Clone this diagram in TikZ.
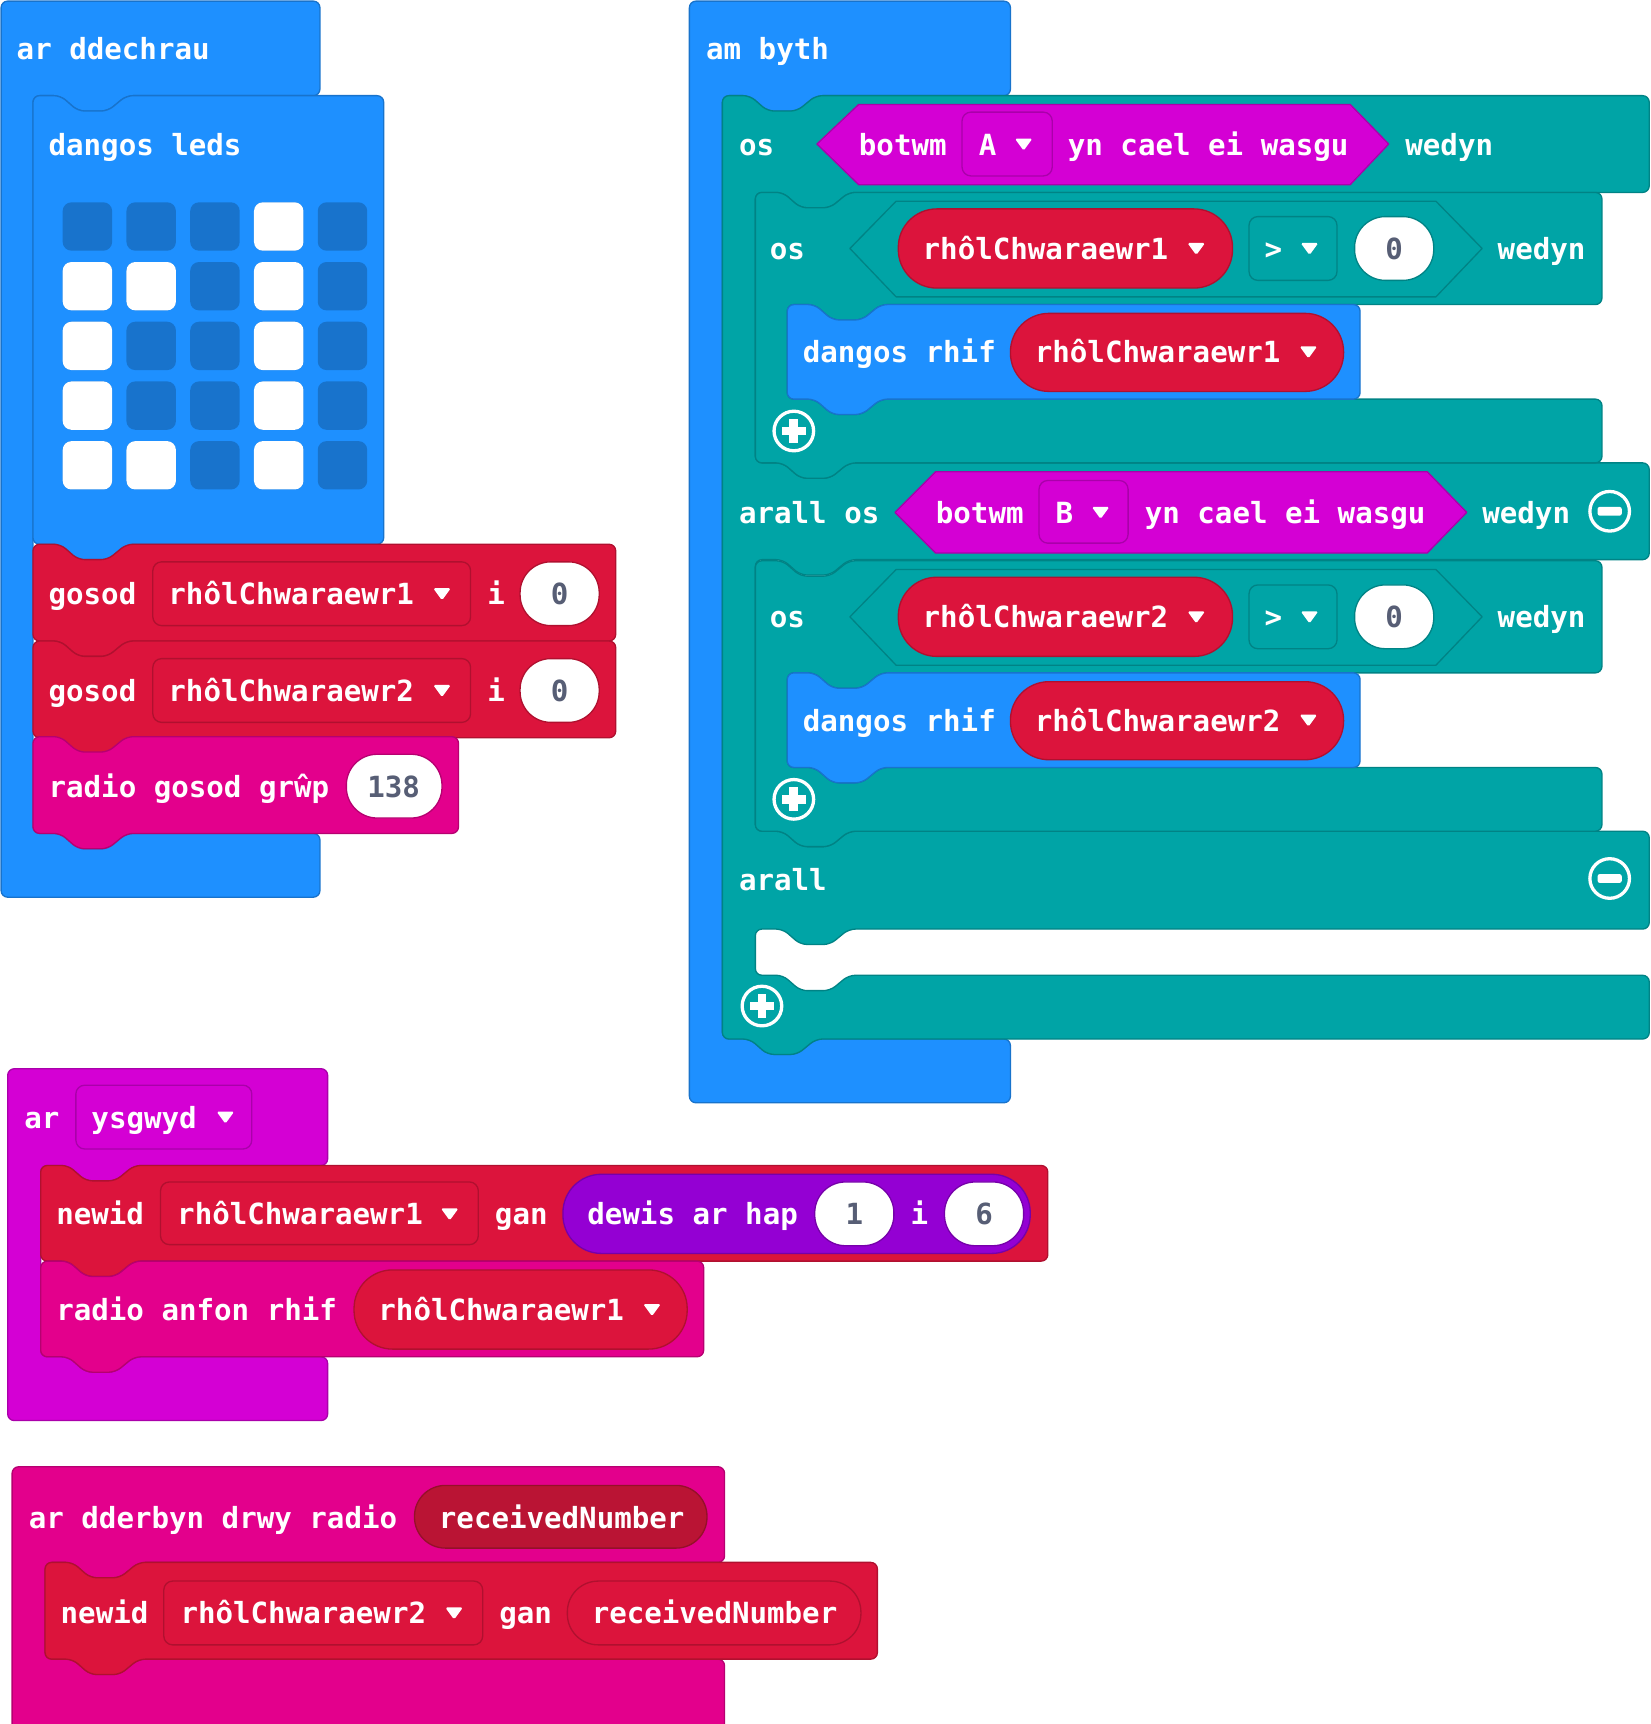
\documentclass[tikz,border=0pt]{standalone}
\usepackage{fontspec}
\setmainfont{DejaVu Sans Mono}
\usetikzlibrary{positioning}

\definecolor{mblue}{HTML}{1E90FF}
\definecolor{mblueD}{HTML}{1873CC}
\definecolor{mteal}{HTML}{00A4A6}
\definecolor{mtealD}{HTML}{008385}
\definecolor{mred}{HTML}{DC143C}
\definecolor{mredD}{HTML}{B0102F}
\definecolor{mpink}{HTML}{E3008C}
\definecolor{mpinkD}{HTML}{B60070}
\definecolor{minput}{HTML}{D400D4}
\definecolor{minputD}{HTML}{AA00AA}
\definecolor{mmath}{HTML}{9400D3}
\definecolor{mmathD}{HTML}{7600A9}
\definecolor{mrecv}{HTML}{BA1434}
\definecolor{mrecvD}{HTML}{951029}
\definecolor{mnum}{HTML}{575E75}

\tikzset{
	blk/.style={line width=1.2pt,rounded corners=6pt,line join=round},
	field/.style={line width=1.2pt,rounded corners=8pt},
	pillS/.style={line width=1.2pt,rounded corners=28pt},
	pillL/.style={line width=1.2pt,rounded corners=35pt},
	hexa/.style={line width=1.2pt,line join=round},
	lbl/.style={anchor=base west,inner sep=0pt,text=white,font=\fontsize{26.5}{30}\selectfont\bfseries},
	numlbl/.style={anchor=base,inner sep=0pt,text=mnum,font=\fontsize{26.5}{30}\selectfont\bfseries}
}

% notch cut into a top edge / tab hanging from a bottom edge
\newcommand{\notchtop}[2]{-- (#1+25,#2) -- (#1+41,#2+14) -- (#1+68,#2+14) -- (#1+85,#2)}
\newcommand{\tabbot}[2]{-- (#1+85,#2) -- (#1+68,#2+14) -- (#1+41,#2+14) -- (#1+25,#2)}
\newcommand{\stackblk}[6]{\draw[blk,fill=#5,draw=#6] (#1,#2) \notchtop{#1}{#2} -- (#3,#2) -- (#3,#4) \tabbot{#1}{#4} -- (#1,#4) -- cycle;}
\newcommand{\ddarrow}[2]{\fill[white,rounded corners=1.5pt] (#1-8,#2-5) -- (#1+8,#2-5) -- (#1,#2+6) -- cycle;}
\newcommand{\addicon}[2]{\draw[white,line width=3pt] (#1,#2) circle[radius=18pt];
	\fill[white] (#1-11,#2-4) rectangle (#1+11,#2+4);
	\fill[white] (#1-4,#2-11) rectangle (#1+4,#2+11);}
\newcommand{\removeicon}[2]{\draw[white,line width=3pt] (#1,#2) circle[radius=18pt];
	\fill[white,rounded corners=2pt] (#1-11,#2-4) rectangle (#1+11,#2+4);}

% inner "os ... wedyn" block with its "dangos rhif"
\newcommand{\nestedif}[3]{%
	\begin{scope}[shift={(0,#1)}]
	\draw[blk,fill=mteal,draw=mtealD] (687,175) \notchtop{687}{175} -- (1457,175) -- (1457,277) \tabbot{716}{277} -- (716,277) -- (716,363) \notchtop{716}{363} -- (1457,363) -- (1457,421) \tabbot{687}{421} -- (687,421) -- cycle;
	\node[lbl] (#3os) at (700,236) {os};
	\draw[hexa,fill=mteal,draw=mtealD] (773,226) -- (815,183) -- (1306,183) -- (1348,226) -- (1306,270) -- (815,270) -- cycle;
	\draw[pillL,fill=mred,draw=mredD] (817,190) rectangle (1121,262);
	\node[lbl] (#3var) at (839,236) {#2};
	\ddarrow{1088}{226}
	\draw[field,fill=mteal,draw=mtealD] (1136,197) rectangle (1216,255);
	\node[lbl] (#3op) at (1150,236) {>};
	\ddarrow{1191}{226}
	\draw[pillS,fill=white,draw=mtealD] (1232,197) rectangle (1304,255);
	\node[numlbl] (#3zero) at (1268,236) {0};
	\node[lbl] (#3then) at (1362,236) {wedyn};
	\stackblk{716}{277}{1237}{363}{mblue}{mblueD}
	\node[lbl] (#3show) at (730,330) {dangos rhif};
	\draw[pillL,fill=mred,draw=mredD] (919,285) rectangle (1222,356);
	\node[lbl] (#3arg) at (941,330) {#2};
	\ddarrow{1190}{320}
	\addicon{722}{392}
	\end{scope}}

\begin{document}
\begin{tikzpicture}[x=1pt,y=-1pt]
	\useasboundingbox (0,0) rectangle (1501,1568);

	% ar ddechrau
	\draw[blk,fill=mblue,draw=mblueD] (1,1) -- (291,1) -- (291,87) \tabbot{30}{87} -- (30,87) -- (30,758) \notchtop{30}{758} -- (291,758) -- (291,816) -- (1,816) -- cycle;
	\node[lbl] (start) at (15,54) {ar ddechrau};

	\stackblk{30}{87}{349}{495}{mblue}{mblueD}
	\node[lbl] (leds) at (44,141) {dangos leds};
	\foreach \c in {0,...,4}
		\foreach \r in {0,...,4}
			\fill[mblueD,rounded corners=8pt] (57+58*\c,184+54.3*\r) rectangle +(45,44);
	\foreach \c/\r in {3/0,0/1,1/1,3/1,0/2,3/2,0/3,3/3,0/4,1/4,3/4}
		\fill[white,rounded corners=8pt] (57+58*\c,184+54.3*\r) rectangle +(45,44);

	\foreach \y/\v in {495/1,583/2} {
		\stackblk{30}{\y}{560}{\y+88}{mred}{mredD}
		\node[lbl] (set\v) at (44,\y+55) {gosod};
		\draw[field,fill=mred,draw=mredD] (139,\y+16) rectangle (428,\y+74);
		\node[lbl] (setvar\v) at (153,\y+55) {rhôlChwaraewr\v};
		\ddarrow{402}{\y+45}
		\node[lbl] (setto\v) at (443,\y+55) {i};
		\draw[pillS,fill=white,draw=mredD] (473,\y+16) rectangle (545,\y+74);
		\node[numlbl] (setval\v) at (509,\y+55) {0};
	}

	\stackblk{30}{670}{417}{758}{mpink}{mpinkD}
	\node[lbl] (group) at (44,725) {radio gosod grŵp};
	\draw[pillS,fill=white,draw=mpinkD] (315,686) rectangle (402,744);
	\node[numlbl] (groupval) at (358,725) {138};

	% am byth
	\draw[blk,fill=mblue,draw=mblueD] (627,1) -- (919,1) -- (919,87) \tabbot{657}{87} -- (657,87) -- (657,945) \notchtop{657}{945} -- (919,945) -- (919,1003) -- (627,1003) -- cycle;
	\node[lbl] (forever) at (642,54) {am byth};

	\draw[blk,fill=mteal,draw=mtealD] (657,87) \notchtop{657}{87} -- (1500,87) -- (1500,175) \tabbot{687}{175} -- (687,175) -- (687,421) \notchtop{687}{421} -- (1500,421) -- (1500,509) \tabbot{687}{509} -- (687,509) -- (687,756) \notchtop{687}{756} -- (1500,756) -- (1500,845) \tabbot{687}{845} -- (687,845) -- (687,887) \notchtop{687}{887} -- (1500,887) -- (1500,945) \tabbot{657}{945} -- (657,945) -- cycle;

	\node[lbl] (ifA) at (672,141) {os};
	\draw[hexa,fill=minput,draw=minputD] (743,131) -- (781,95) -- (1228,95) -- (1263,131) -- (1228,168) -- (781,168) -- cycle;
	\node[lbl] (btnA) at (781,141) {botwm};
	\draw[field,fill=minput,draw=minputD] (875,102) rectangle (957,160);
	\node[lbl] (keyA) at (890,141) {A};
	\ddarrow{931}{131}
	\node[lbl] (pressA) at (971,141) {yn cael ei wasgu};
	\node[lbl] (thenA) at (1278,141) {wedyn};

	\node[lbl] (ifB) at (672,476) {arall os};
	\draw[hexa,fill=minput,draw=minputD] (814,466) -- (851,429) -- (1298,429) -- (1334,466) -- (1298,503) -- (851,503) -- cycle;
	\node[lbl] (btnB) at (851,476) {botwm};
	\draw[field,fill=minput,draw=minputD] (945,437) rectangle (1026,494);
	\node[lbl] (keyB) at (960,476) {B};
	\ddarrow{1001}{466}
	\node[lbl] (pressB) at (1041,476) {yn cael ei wasgu};
	\node[lbl] (thenB) at (1348,476) {wedyn};
	\removeicon{1464}{465}

	\node[lbl] (else) at (672,810) {arall};
	\removeicon{1464}{799}
	\addicon{693}{915}

	\nestedif{0}{rhôlChwaraewr1}{a}
	\nestedif{335}{rhôlChwaraewr2}{b}

	% ar ysgwyd
	\draw[blk,fill=minput,draw=minputD] (7,972) -- (298,972) -- (298,1060) \tabbot{37}{1060} -- (37,1060) -- (37,1234) \notchtop{37}{1234} -- (298,1234) -- (298,1292) -- (7,1292) -- cycle;
	\node[lbl] (shake) at (22,1026) {ar};
	\draw[field,fill=minput,draw=minputD] (69,987) rectangle (229,1045);
	\node[lbl] (gesture) at (83,1026) {ysgwyd};
	\ddarrow{205}{1016}

	\stackblk{37}{1060}{953}{1147}{mred}{mredD}
	\node[lbl] (change1) at (51,1114) {newid};
	\draw[field,fill=mred,draw=mredD] (146,1075) rectangle (435,1132);
	\node[lbl] (changevar1) at (161,1114) {rhôlChwaraewr1};
	\ddarrow{409}{1104}
	\node[lbl] (by1) at (450,1114) {gan};
	\draw[pillL,fill=mmath,draw=mmathD] (512,1068) rectangle (937,1140);
	\node[lbl] (random) at (534,1114) {dewis ar hap};
	\draw[pillS,fill=white,draw=mmathD] (741,1075) rectangle (813,1133);
	\node[numlbl] (low) at (777,1114) {1};
	\node[lbl] (upto) at (828,1114) {i};
	\draw[pillS,fill=white,draw=mmathD] (859,1075) rectangle (931,1133);
	\node[numlbl] (high) at (895,1114) {6};

	\stackblk{37}{1147}{640}{1234}{mpink}{mpinkD}
	\node[lbl] (send) at (51,1201) {radio anfon rhif};
	\draw[pillL,fill=mred,draw=mredD] (322,1155) rectangle (625,1227);
	\node[lbl] (sendvar) at (344,1201) {rhôlChwaraewr1};
	\ddarrow{593}{1191}

	% ar dderbyn drwy radio
	\draw[blk,fill=mpink,draw=mpinkD] (11,1334) -- (659,1334) -- (659,1421) \tabbot{41}{1421} -- (41,1421) -- (41,1509) \notchtop{41}{1509} -- (659,1509) -- (659,1580) -- (11,1580) -- cycle;
	\node[lbl] (receive) at (26,1390) {ar dderbyn drwy radio};
	\draw[pillS,fill=mrecv,draw=mrecvD] (377,1351) rectangle (643,1408);
	\node[lbl] (recvarg) at (399,1390) {receivedNumber};

	\stackblk{41}{1421}{798}{1509}{mred}{mredD}
	\node[lbl] (change2) at (55,1477) {newid};
	\draw[field,fill=mred,draw=mredD] (149,1438) rectangle (439,1496);
	\node[lbl] (changevar2) at (164,1477) {rhôlChwaraewr2};
	\ddarrow{413}{1467}
	\node[lbl] (by2) at (454,1477) {gan};
	\draw[pillS,fill=mred,draw=mredD] (516,1438) rectangle (783,1496);
	\node[lbl] (recvval) at (538,1477) {receivedNumber};
\end{tikzpicture}
\end{document}
